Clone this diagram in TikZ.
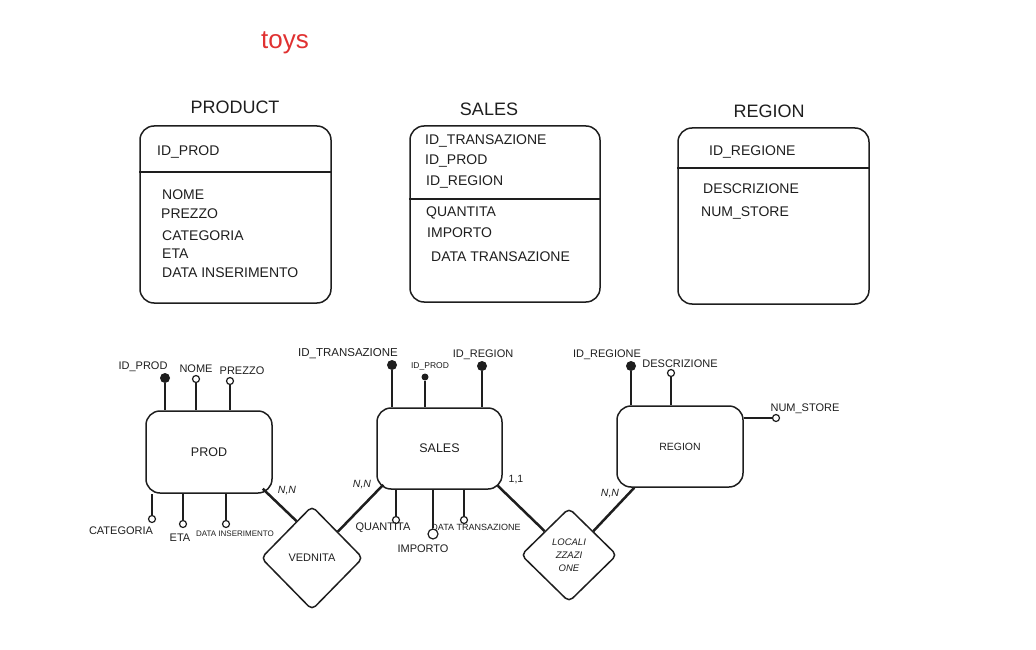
\documentclass[tikz,border=0pt]{standalone}
\usepackage{fontspec}
\setmainfont{Liberation Sans}
\usetikzlibrary{shapes.geometric,calc}
\definecolor{ink}{HTML}{1E1E1E}
\definecolor{toyred}{HTML}{E03131}
\begin{document}
\begin{tikzpicture}[x=1pt,y=-1pt,
  tbl/.style={draw=ink, line width=1.5pt, rounded corners=14pt, inner sep=0},
  sepline/.style={draw=ink, line width=2pt},
  ttl/.style={text=ink, font=\fontsize{18}{20}\selectfont, inner sep=0},
  ttxt/.style={text=ink, font=\fontsize{14}{16}\selectfont, anchor=west, inner sep=0},
  ent/.style={draw=ink, line width=1.5pt, rounded corners=14pt, inner sep=0, text=ink, font=\fontsize{12.5}{14}\selectfont},
  rel/.style={diamond, aspect=1, draw=ink, line width=1.5pt, rounded corners=5pt, inner sep=0, text=ink, align=center},
  keyd/.style={circle, fill=ink, inner sep=0, minimum size=10pt},
  keys/.style={circle, fill=ink, inner sep=0, minimum size=7pt},
  att/.style={circle, draw=ink, line width=1.2pt, fill=white, inner sep=0, minimum size=7pt},
  kline/.style={draw=ink, line width=2.5pt},
  aline/.style={draw=ink, line width=1.4pt},
  conn/.style={draw=ink, line width=2.5pt},
  lbl/.style={text=ink, font=\fontsize{11}{13}\selectfont, inner sep=0},
  slbl/.style={text=ink, font=\fontsize{8}{9}\selectfont, inner sep=0},
  card/.style={text=ink, font=\fontsize{10.5}{12}\selectfont\itshape, inner sep=0}
]
\useasboundingbox (0,0) rectangle (1036,650);

% title
\node[text=toyred, font=\fontsize{26}{28}\selectfont, inner sep=0] (toys) at (285,43) {toys};

% ---------- tables ----------
\node[ttl] (hprod) at (235,107) {PRODUCT};
\node[tbl, minimum width=191pt, minimum height=177pt] (tprod) at (235.5,214.5) {};
\draw[sepline] (tprod.west |- 0,172) -- (tprod.east |- 0,172);
\node[ttxt] (p1) at (157,152) {ID\_PROD};
\node[ttxt] (p2) at (162,195) {NOME};
\node[ttxt] (p3) at (161,214) {PREZZO};
\node[ttxt] (p4) at (162,236) {CATEGORIA};
\node[ttxt] (p5) at (162,254) {ETA};
\node[ttxt] (p6) at (162,273) {DATA INSERIMENTO};

\node[ttl] (hsales) at (489,109) {SALES};
\node[tbl, minimum width=190pt, minimum height=176pt] (tsales) at (505,214) {};
\draw[sepline] (tsales.west |- 0,199) -- (tsales.east |- 0,199);
\node[ttxt] (s1) at (425,141) {ID\_TRANSAZIONE};
\node[ttxt] (s2) at (425,161) {ID\_PROD};
\node[ttxt] (s3) at (426,182) {ID\_REGION};
\node[ttxt] (s4) at (426,213) {QUANTITA};
\node[ttxt] (s5) at (427,233) {IMPORTO};
\node[ttxt] (s6) at (431,257) {DATA TRANSAZIONE};

\node[ttl] (hregion) at (769,111) {REGION};
\node[tbl, minimum width=191pt, minimum height=176pt] (tregion) at (773.5,216) {};
\draw[sepline] (tregion.west |- 0,168) -- (tregion.east |- 0,168);
\node[ttxt] (r1) at (709,152) {ID\_REGIONE};
\node[ttxt] (r2) at (703,189) {DESCRIZIONE};
\node[ttxt] (r3) at (701,213) {NUM\_STORE};

% ---------- ER diagram ----------
\node[ent, minimum width=126pt, minimum height=82pt] (eprod) at (209,452) {PROD};
\node[ent, minimum width=125pt, minimum height=81pt] (esales) at (439.5,448.5) {SALES};
\node[ent, minimum width=126pt, minimum height=81pt, font=\fontsize{10.5}{12}\selectfont] (eregion) at (680,446.5) {REGION};

\node[rel, minimum width=102pt, minimum height=104pt, font=\fontsize{11}{13}\selectfont] (ved) at (312,558) {VEDNITA};
\node[rel, minimum width=96pt, minimum height=94pt, font=\fontsize{9.5}{13}\selectfont\itshape] (loc) at (569,555) {LOCALI\\ZZAZI\\ONE};

% PROD attributes
\node[keyd] (a1) at (165,378) {};
\draw[kline] (a1.south) -- (a1.south |- eprod.north);
\node[lbl] (la1) at (143,367) {ID\_PROD};
\node[att] (a2) at (196,379) {};
\draw[aline] (a2.south) -- (a2.south |- eprod.north);
\node[lbl] (la2) at (196,369) {NOME};
\node[att] (a3) at (230,381) {};
\draw[aline] (a3.south) -- (a3.south |- eprod.north);
\node[lbl] (la3) at (242,371) {PREZZO};

\node[att] (a4) at (152,519) {};
\draw[aline] (a4.north) -- (a4.north |- eprod.south);
\node[lbl] (la4) at (121,531) {CATEGORIA};
\node[att] (a5) at (183,524) {};
\draw[aline] (a5.north) -- (a5.north |- eprod.south);
\node[lbl] (la5) at (180,538) {ETA};
\node[att] (a6) at (226,524) {};
\draw[aline] (a6.north) -- (a6.north |- eprod.south);
\node[slbl] (la6) at (235,534) {DATA INSERIMENTO};

% SALES attributes
\node[keyd] (b1) at (392,365) {};
\draw[kline] (b1.south) -- (b1.south |- esales.north);
\node[lbl, font=\fontsize{11.5}{13}\selectfont] (lb1) at (348,354) {ID\_TRANSAZIONE};
\node[keys] (b2) at (425,377) {};
\draw[aline] (b2.south) -- (b2.south |- esales.north);
\node[slbl, font=\fontsize{8.5}{10}\selectfont] (lb2) at (430,366) {ID\_PROD};
\node[keyd] (b3) at (482,366) {};
\draw[kline] (b3.south) -- (b3.south |- esales.north);
\node[lbl] (lb3) at (483,355) {ID\_REGION};

\node[att] (b4) at (396,520) {};
\draw[aline] (b4.north) -- (b4.north |- esales.south);
\node[lbl] (lb4) at (383,528) {QUANTITA};
\node[att, minimum size=10pt] (b5) at (433,534) {};
\draw[aline] (b5.north) -- (b5.north |- esales.south);
\node[lbl] (lb5) at (423,549) {IMPORTO};
\node[att] (b6) at (464,520) {};
\draw[aline] (b6.north) -- (b6.north |- esales.south);
\node[slbl, font=\fontsize{9}{10}\selectfont] (lb6) at (476,527) {DATA TRANSAZIONE};

% REGION attributes
\node[keyd] (c1) at (631,366) {};
\draw[kline] (c1.south) -- (c1.south |- eregion.north);
\node[lbl] (lc1) at (607,355) {ID\_REGIONE};
\node[att] (c2) at (671,373) {};
\draw[aline] (c2.south) -- (c2.south |- eregion.north);
\node[lbl] (lc2) at (680,364) {DESCRIZIONE};
\node[att] (c3) at (776,418) {};
\draw[aline] (c3.west) -- (eregion.east |- c3.west);
\node[lbl] (lc3) at (805,409) {NUM\_STORE};

% relationships
\draw[conn] ([shift={(-10,-5)}]eprod.south east) -- ($(ved.north)!0.3!(ved.west)$);
\draw[conn] ($(ved.north)!0.5!(ved.east)$) -- ([shift={(7,-5)}]esales.south west);
\draw[conn] ([shift={(-5,-4)}]esales.south east) -- ($(loc.north)!0.5!(loc.west)$);
\draw[conn] ($(loc.north)!0.5!(loc.east)$) -- ([shift={(18,0)}]eregion.south west);

\node[card] (n1) at (287,491) {N,N};
\node[card] (n2) at (362,485) {N,N};
\node[card, font=\fontsize{10.5}{12}\selectfont] (n3) at (516,480) {1,1};
\node[card] (n4) at (610,494) {N,N};
\end{tikzpicture}
\end{document}
